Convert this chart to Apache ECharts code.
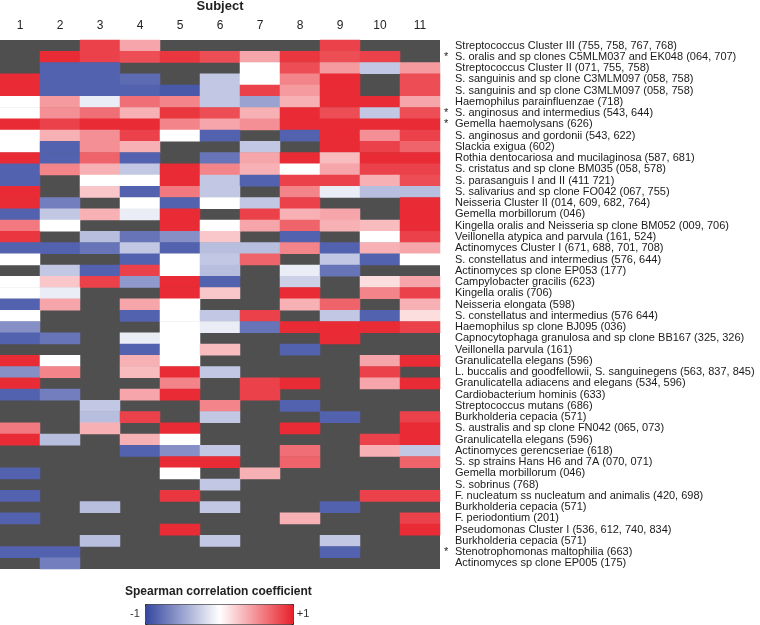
<!DOCTYPE html>
<html>
<head>
<meta charset="utf-8">
<script src="https://cdn.jsdelivr.net/npm/echarts@6/dist/echarts.min.js"></script>
<style>
html,body{margin:0;padding:0;background:#fff;}
#chart{width:760px;height:625px;}
</style>
</head>
<body>
<div id="chart"></div>
<script>
// ---- DATA ----
const subjects = ['1','2','3','4','5','6','7','8','9','10','11'];

const taxa = [
  'Streptococcus Cluster III (755, 758, 767, 768)',
  'S. oralis and sp clones C5MLM037 and EK048 (064, 707)',
  'Streptococcus Cluster II (071, 755, 758)',
  'S. sanguinis and sp clone C3MLM097 (058, 758)',
  'S. sanguinis and sp clone C3MLM097 (058, 758)',
  'Haemophilus parainfluenzae (718)',
  'S. anginosus and intermedius (543, 644)',
  'Gemella haemolysans (626)',
  'S. anginosus and gordonii (543, 622)',
  'Slackia exigua (602)',
  'Rothia dentocariosa and mucilaginosa (587, 681)',
  'S. cristatus and sp clone BM035 (058, 578)',
  'S. parasanguis I and II (411 721)',
  'S. salivarius and sp clone FO042 (067, 755)',
  'Neisseria Cluster II (014, 609, 682, 764)',
  'Gemella morbillorum (046)',
  'Kingella oralis and Neisseria sp clone BM052 (009, 706)',
  'Veillonella atypica and parvula (161, 524)',
  'Actinomyces Cluster I (671, 688, 701, 708)',
  'S. constellatus and intermedius (576, 644)',
  'Actinomyces sp clone EP053 (177)',
  'Campylobacter gracilis (623)',
  'Kingella oralis (706)',
  'Neisseria elongata (598)',
  'S. constellatus and intermedius (576 644)',
  'Haemophilus sp clone BJ095 (036)',
  'Capnocytophaga granulosa and sp clone BB167 (325, 326)',
  'Veillonella parvula (161)',
  'Granulicatella elegans (596)',
  'L. buccalis and goodfellowii, S. sanguinegens (563, 837, 845)',
  'Granulicatella adiacens and elegans (534, 596)',
  'Cardiobacterium hominis (633)',
  'Streptococcus mutans (686)',
  'Burkholderia cepacia (571)',
  'S. australis and sp clone FN042 (065, 073)',
  'Granulicatella elegans (596)',
  'Actinomyces gerencseriae (618)',
  'S. sp strains Hans H6 and 7A (070, 071)',
  'Gemella morbillorum (046)',
  'S. sobrinus (768)',
  'F. nucleatum ss nucleatum and animalis (420, 698)',
  'Burkholderia cepacia (571)',
  'F. periodontium (201)',
  'Pseudomonas Cluster I (536, 612, 740, 834)',
  'Burkholderia cepacia (571)',
  'Stenotrophomonas maltophilia (663)',
  'Actinomyces sp clone EP005 (175)'
];

// rows (0-based) marked with an asterisk
const starredRows = [1, 6, 7, 45];

// Spearman correlation per taxon (row) and subject (column); null = not available
const N = null;
const corr = [
  [N, N, 0.85, 0.4, N, N, N, N, 0.85, N, N],
  [N, 0.95, 0.85, 0.8, 0.9, 0.8, 0.4, 0.9, 0.8, 0.85, N],
  [N, -0.85, -0.85, N, N, N, 0, 0.8, 0.45, -0.3, 0.45],
  [0.95, -0.85, -0.85, -0.8, N, -0.3, 0, 0.55, 0.95, N, 0.8],
  [0.95, -0.85, -0.85, -0.85, -0.9, -0.3, 0.85, 0.45, 0.95, N, 0.8],
  [0, 0.45, -0.1, 0.65, 0.55, -0.3, -0.5, 0.35, 0.95, 0.95, 0.4],
  [0, 0.5, 0.65, 0.35, 0.9, 0.8, 0.35, 0.95, 0.8, -0.3, 0.8],
  [0.95, 0.85, 0.95, 0.95, 0.55, 0.4, 0.5, 0.95, 0.95, 0.95, 0.95],
  [0, 0.35, 0.5, 0.85, 0, -0.85, N, -0.85, 0.95, 0.5, 0.85],
  [0, -0.85, 0.5, 0.35, N, N, -0.3, N, 0.95, 0.85, 0.7],
  [0.95, -0.85, 0.7, -0.85, N, -0.75, 0.4, 0.95, 0.3, 0.95, 0.95],
  [-0.85, 0.55, 0.35, -0.3, 0.95, 0.55, 0.35, 0, 0.4, 0.85, 0.85],
  [-0.85, N, 0, 0, 0.95, -0.3, -0.85, 0.85, 0.85, 0.35, 0.8],
  [0.95, N, 0.25, -0.85, 0.6, -0.3, N, 0.55, -0.1, -0.35, -0.35],
  [0.95, -0.7, N, 0, -0.85, 0, -0.3, 0.85, N, N, 0.95],
  [-0.85, -0.3, 0.35, -0.1, 0.95, N, 0.85, 0.35, 0.4, N, 0.95],
  [0.6, 0, N, N, 0.95, 0, 0.4, 0.7, 0.35, 0.3, 0.95],
  [0.9, N, -0.35, -0.75, -0.6, 0.25, N, -0.85, N, 0, 0.85],
  [-0.85, -0.85, -0.75, -0.3, -0.85, -0.35, -0.35, 0.55, -0.85, 0.35, 0.4],
  [0, N, N, -0.85, 0, -0.3, 0.7, N, -0.3, -0.85, 0],
  [N, -0.3, -0.85, 0.85, 0, -0.35, N, -0.1, -0.75, N, N],
  [0, 0.25, 0.85, -0.55, 0.95, -0.85, N, -0.25, N, 0.15, 0.4],
  [0, -0.1, N, N, 0.95, 0.25, N, 0.95, N, 0.55, 0.85],
  [-0.85, 0.4, N, 0.4, 0, N, N, 0.35, 0.7, N, 0.35],
  [0, N, N, -0.85, 0, -0.3, 0.85, N, -0.3, -0.85, 0.15],
  [-0.6, N, N, N, 0, -0.1, -0.75, 0.95, 0.95, 0.95, 0.85],
  [-0.85, -0.75, N, -0.1, 0, N, N, N, 0.95, N, N],
  [N, N, N, -0.85, 0, 0.3, N, -0.85, N, N, N],
  [0.95, 0, N, 0.35, 0, N, N, N, N, 0.4, 0.95],
  [-0.6, 0.55, N, 0.3, 0.95, -0.3, N, N, N, 0.85, N],
  [0.95, N, N, N, 0.55, N, 0.85, 0.95, N, 0.4, 0.95],
  [-0.85, -0.7, N, 0.4, 0.95, N, 0.85, N, N, N, N],
  [N, N, -0.3, N, N, 0.55, N, -0.85, N, N, N],
  [N, N, -0.35, 0.85, N, -0.3, N, N, -0.85, N, 0.85],
  [0.6, N, 0.35, N, 0.95, N, N, 0.95, N, N, 0.95],
  [0.95, -0.35, N, 0.35, 0, N, N, N, N, 0.85, 0.95],
  [N, N, N, -0.85, -0.6, -0.3, N, 0.65, N, 0.35, -0.3],
  [N, N, N, N, 0.95, 0.95, N, 0.7, N, N, 0.7],
  [-0.85, N, N, N, 0, N, 0.35, N, N, N, N],
  [N, N, N, N, N, -0.3, N, N, N, N, N],
  [-0.85, N, N, N, 0.9, N, N, N, N, 0.85, 0.85],
  [N, N, -0.35, N, N, -0.3, N, N, -0.85, N, N],
  [-0.85, N, N, N, N, N, N, 0.35, N, N, 0.85],
  [N, N, N, N, 0.95, N, N, N, N, N, 0.95],
  [N, N, -0.35, N, N, -0.3, N, N, -0.3, N, N],
  [-0.85, -0.85, N, N, N, N, N, N, -0.85, N, N],
  [N, -0.7, N, N, N, N, N, N, N, N, N]
];

const colorbarTicks = ['-1', '0', '+1'];

// ---- BUILD ----
const heatData = [];
corr.forEach((row, r) => {
  row.forEach((v, c) => {
    if (v !== null) heatData.push([c, r, v]);
  });
});

const FONT = '"Liberation Sans", Arial, sans-serif';
const chart = echarts.init(document.getElementById('chart'), null, {renderer: 'canvas'});

const option = {
  backgroundColor: '#ffffff',
  animation: false,
  title: [
    {
      text: 'Subject', left: 220, top: 0, textAlign: 'center', padding: 0,
      textStyle: {fontFamily: FONT, fontSize: 13, fontWeight: 'bold', color: '#222'}
    },
    {
      text: 'Spearman correlation coefficient', left: 125, top: 586, padding: 0,
      textStyle: {fontFamily: FONT, fontSize: 12, fontWeight: 'bold', color: '#222'}
    }
  ],
  grid: {
    left: 0, top: 40, width: 440, height: 529,
    show: true, backgroundColor: '#4f4f4f', borderWidth: 0
  },
  xAxis: {
    type: 'category', position: 'top', data: subjects,
    axisLine: {show: false}, axisTick: {show: false}, splitLine: {show: false},
    axisLabel: {fontFamily: FONT, fontSize: 12, color: '#222', margin: 8}
  },
  yAxis: [
    {
      type: 'category', position: 'right', inverse: true, data: taxa,
      axisLine: {show: false}, axisTick: {show: false}, splitLine: {show: false},
      axisLabel: {fontFamily: FONT, fontSize: 11, color: '#1a1a1a', margin: 15, interval: 0}
    },
    {
      type: 'category', position: 'right', inverse: true, data: taxa,
      axisLine: {show: false}, axisTick: {show: false}, splitLine: {show: false},
      axisLabel: {
        fontFamily: FONT, fontSize: 11, color: '#1a1a1a', margin: 4, interval: 0,
        formatter: (val, idx) => starredRows.indexOf(idx) >= 0 ? '*' : ''
      }
    }
  ],
  visualMap: {
    type: 'continuous', min: -1, max: 1, orient: 'horizontal',
    left: 145, top: 604, itemWidth: 20, itemHeight: 148,
    calculable: false, padding: 0, text: null,
    borderColor: '#222', borderWidth: 1,
    seriesIndex: 0,
    inRange: {color: ['#3546a0', '#ffffff', '#e8202a']}
  },
  graphic: [
    {type: 'text', x: 135, y: 614, silent: true,
     style: {text: colorbarTicks[0], fill: '#333', font: '11px ' + FONT, align: 'center', verticalAlign: 'middle'}},
    {type: 'text', x: 219, y: 614, silent: true,
     style: {text: colorbarTicks[1], fill: '#333', font: '11px ' + FONT, align: 'center', verticalAlign: 'middle'}},
    {type: 'text', x: 303, y: 614, silent: true,
     style: {text: colorbarTicks[2], fill: '#333', font: '11px ' + FONT, align: 'center', verticalAlign: 'middle'}}
  ],
  series: [{
    type: 'heatmap',
    xAxisIndex: 0, yAxisIndex: 0,
    data: heatData,
    itemStyle: {borderWidth: 0},
    emphasis: {disabled: true}
  }]
};
chart.setOption(option);
</script>
</body>
</html>
